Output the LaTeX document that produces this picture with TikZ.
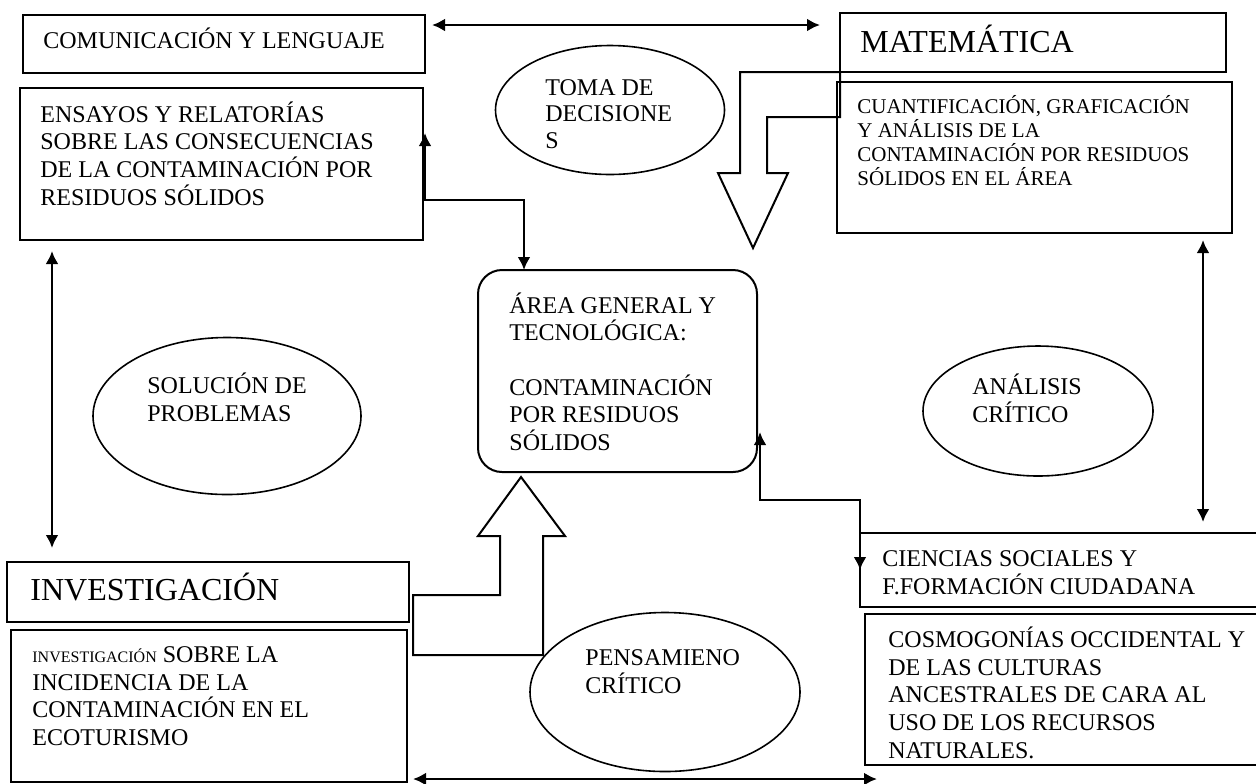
\documentclass[tikz,border=0pt]{standalone}
\usepackage{fontspec}
\setmainfont{Liberation Serif}
\usepackage{tikz}
\usetikzlibrary{shapes,arrows.meta,positioning}

\tikzset{
	caja/.style={draw=black,line width=1pt,rectangle,inner sep=0pt,outer sep=0pt,anchor=north west},
	burbuja/.style={draw=black,line width=0.8pt,ellipse,inner sep=0pt},
	texto/.style={anchor=base west,inner sep=0pt,align=left,font=\fontsize{12}{13.8}\selectfont},
	punta/.style={line width=1.3pt,-{Latex[length=6.5pt,width=6.5pt]}},
	doble/.style={line width=1.3pt,{Latex[length=6.5pt,width=6.5pt]}-{Latex[length=6.5pt,width=6.5pt]}},
	bloque/.style={draw=black,line width=1pt,line join=miter}
}

\begin{document}
\begin{tikzpicture}[x=0.5pt,y=-0.5pt]
	\useasboundingbox (0,0) rectangle (1256,783);
	\clip (0,0) rectangle (1256,783);
	%% the boxes
	\node[caja,minimum width=201pt,minimum height=29pt] (com) at (23,15) {};
	\node[caja,minimum width=201.5pt,minimum height=76pt] (ens) at (20,88) {};
	\node[caja,minimum width=193pt,minimum height=29.5pt] (mat) at (840,13) {};
	\node[caja,minimum width=197.5pt,minimum height=75.5pt] (cua) at (837,82) {};
	\node[caja,rounded corners=12pt,minimum width=139.5pt,minimum height=101pt] (area) at (478,270) {};
	\node[caja,minimum width=201pt,minimum height=30pt] (inv) at (7,562) {};
	\node[caja,minimum width=198pt,minimum height=76pt] (invtema) at (11,630) {};
	\node[caja,minimum width=201pt,minimum height=37pt] (cie) at (860,533) {};
	\node[caja,minimum width=198.5pt,minimum height=75.5pt] (cos) at (865,614) {};
	%% the ellipses
	\node[burbuja,minimum width=114.5pt,minimum height=64.5pt] (toma) at (610,110) {};
	\node[burbuja,minimum width=134pt,minimum height=78.5pt] (sol) at (227,416) {};
	\node[burbuja,minimum width=115pt,minimum height=65pt] (ana) at (1038,411) {};
	\node[burbuja,minimum width=135pt,minimum height=79.5pt] (pen) at (665,692) {};
	%% the texts (placed at the baseline of their last line)
	\node[texto] (comtxt) at (43,48) {COMUNICACIÓN Y LENGUAJE};
	\node[texto] (enstxt) at (40,205) {ENSAYOS Y RELATORÍAS\\SOBRE LAS CONSECUENCIAS\\DE LA CONTAMINACIÓN POR\\RESIDUOS SÓLIDOS};
	\node[texto,font=\fontsize{16}{18}\selectfont] (mattxt) at (860,52) {MATEMÁTICA};
	\node[texto,font=\fontsize{10.5}{12}\selectfont] (cuatxt) at (857,185) {CUANTIFICACIÓN, GRAFICACIÓN\\Y ANÁLISIS DE LA\\CONTAMINACIÓN POR RESIDUOS\\SÓLIDOS EN EL ÁREA};
	\node[texto,font=\fontsize{12}{13.25}\selectfont] (tomatxt) at (545,148) {TOMA DE\\DECISIONE\\S};
	\node[texto,font=\fontsize{12}{13.7}\selectfont] (areatxt) at (509,450) {ÁREA GENERAL Y\\TECNOLÓGICA:\\[13.7pt]CONTAMINACIÓN\\POR RESIDUOS\\SÓLIDOS};
	\node[texto] (soltxt) at (147,421) {SOLUCIÓN DE\\PROBLEMAS};
	\node[texto] (anatxt) at (972,422) {ANÁLISIS\\CRÍTICO};
	\node[texto] (pentxt) at (585,693) {PENSAMIENO\\CRÍTICO};
	\node[texto,font=\fontsize{16}{18}\selectfont] (invtxt) at (30,600) {INVESTIGACIÓN};
	\node[texto,font=\fontsize{12}{13.7}\selectfont] (invtematxt) at (32,745) {{\fontsize{8}{9}\selectfont INVESTIGACIÓN} SOBRE LA\\INCIDENCIA DE LA\\CONTAMINACIÓN EN EL\\ECOTURISMO};
	\node[texto] (cietxt) at (882,594) {CIENCIAS SOCIALES Y\\F.FORMACIÓN CIUDADANA};
	\node[texto] (costxt) at (888,758) {COSMOGONÍAS OCCIDENTAL Y\\DE LAS CULTURAS\\ANCESTRALES DE CARA AL\\USO DE LOS RECURSOS\\NATURALES.};
	%% the connectors
	\draw[doble] ([shift={(7,10)}]com.north east) -- ([shift={(-20,12)}]mat.north west);
	\draw[doble] ([shift={(32,11)}]ens.south west) -- ([shift={(45,-14)}]inv.north west);
	\draw[doble] ([shift={(-29,7)}]cua.south east) -- ([shift={(343,-11)}]cie.north west);
	\draw[doble] ([shift={(6,-3)}]invtema.south east) -- ([shift={(12,14)}]cos.south west);
	\draw[doble] ([shift={(2,45)}]ens.north east) |- ([shift={(46,-70)}]area.north west) -- ([shift={(46,0)}]area.north west);
	\draw[doble] ([shift={(3,-40)}]area.south east) |- ([shift={(0,-33)}]cie.north west) -- ([shift={(0,37)}]cie.north west);
	%% the block arrows
	\draw[bloque] (840,72) -- (740,72) -- (740,173) -- (718,173) -- (753,248) -- (788,173) -- (767,173) -- (767,117) -- (840,117) -- cycle;
	\draw[bloque] (413,595) -- (500,595) -- (500,536) -- (478,536) -- (521,477) -- (565,536) -- (543,536) -- (543,655) -- (413,655) -- cycle;
\end{tikzpicture}
\end{document}
